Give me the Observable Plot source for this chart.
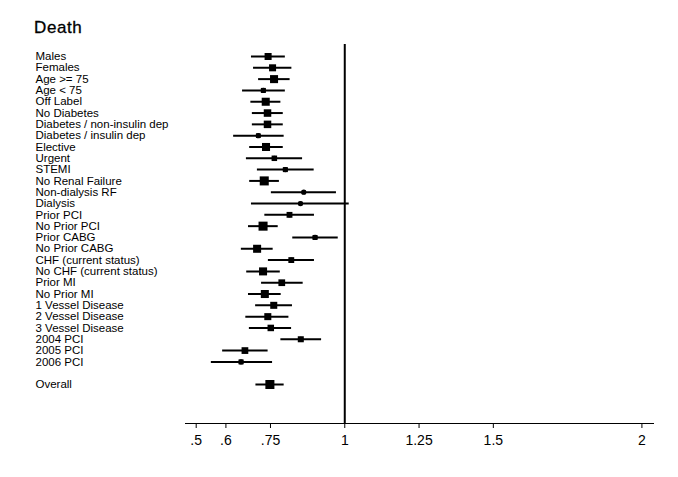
<!DOCTYPE html>
<html>
<head>
<meta charset="utf-8">
<script src="https://cdn.jsdelivr.net/npm/d3@7"></script>
<script src="https://cdn.jsdelivr.net/npm/@observablehq/plot@0.6"></script>
<style>
  html, body { margin: 0; padding: 0; background: #fff; }
  #wrap { position: relative; width: 678px; height: 477px; }
  #title { position: absolute; left: 34px; top: 19px; line-height: 17px; font-family: "Liberation Sans", Arial, sans-serif; font-size: 17px; font-weight: normal; letter-spacing: 0.6px; color: #000; -webkit-text-stroke: 0.3px #000; }
</style>
</head>
<body>
<div id="wrap"><div id="title">Death</div></div>
<script>
const labels = [
  "Males", "Females", "Age >= 75", "Age < 75", "Off Label", "No Diabetes",
  "Diabetes / non-insulin dep", "Diabetes / insulin dep", "Elective", "Urgent",
  "STEMI", "No Renal Failure", "Non-dialysis RF", "Dialysis", "Prior PCI",
  "No Prior PCI", "Prior CABG", "No Prior CABG", "CHF (current status)",
  "No CHF (current status)", "Prior MI", "No Prior MI", "1 Vessel Disease",
  "2 Vessel Disease", "3 Vessel Disease", "2004 PCI", "2005 PCI", "2006 PCI",
  "Overall"
];
const est = [0.742, 0.757, 0.762, 0.726, 0.734, 0.740, 0.740, 0.709, 0.735, 0.763,
  0.800, 0.729, 0.862, 0.851, 0.814, 0.725, 0.900, 0.705, 0.820, 0.725,
  0.788, 0.731, 0.761, 0.741, 0.751, 0.852, 0.664, 0.651, 0.748];
const lo = [0.686, 0.693, 0.710, 0.656, 0.684, 0.689, 0.689, 0.626, 0.680, 0.669,
  0.706, 0.680, 0.753, 0.686, 0.731, 0.676, 0.825, 0.652, 0.743, 0.670,
  0.720, 0.676, 0.700, 0.667, 0.679, 0.785, 0.589, 0.551, 0.701];
const hi = [0.800, 0.822, 0.816, 0.800, 0.785, 0.793, 0.793, 0.796, 0.793, 0.858,
  0.897, 0.780, 0.972, 1.015, 0.898, 0.776, 0.978, 0.759, 0.898, 0.783,
  0.860, 0.786, 0.824, 0.812, 0.821, 0.922, 0.742, 0.757, 0.796];
const weights = [49, 49, 64, 25, 64, 56, 56, 22, 64, 30,
  25, 81, 16, 16, 34, 81, 25, 64, 34, 64,
  45, 64, 49, 49, 42, 36, 45, 25, 81];
const xTicks = [0.5, 0.6, 0.75, 1, 1.25, 1.5, 2];
const xTickLabels = [".5", ".6", ".75", "1", "1.25", "1.5", "2"];

const rows = labels.map((label, i) => ({
  label, est: est[i], lo: lo[i], hi: hi[i], w: weights[i],
  row: i + (label === "Overall" ? 1 : 0)
}));

const font = "'Liberation Sans', Arial, sans-serif";
const chart = Plot.plot({
  width: 678,
  height: 477,
  marginLeft: 185,
  marginRight: 25,
  marginTop: 44,
  marginBottom: 54,
  style: { fontFamily: font, fontSize: "14px", color: "#000", background: "#fff", overflow: "visible" },
  x: {
    domain: [0.464, 2.039],
    ticks: xTicks,
    tickFormat: (d) => xTickLabels[xTicks.indexOf(d)],
    tickSize: 5,
    tickPadding: 7,
    line: true,
    label: null
  },
  y: { type: "linear", domain: [0, 29], range: [56, 384], axis: null },
  r: { type: "sqrt", domain: [0, 81], range: [0, 5.1] },
  marks: [
    Plot.ruleX([1], { stroke: "#000", strokeWidth: 2 }),
    Plot.ruleY(rows, { y: "row", x1: "lo", x2: "hi", stroke: "#000", strokeWidth: 2 }),
    Plot.dot(rows, { x: "est", y: "row", r: "w", symbol: "square", fill: "#000", stroke: "none" }),
    Plot.dot(rows, { x: "est", y: "row", r: 2.6, fill: "#000", stroke: "none" }),
    Plot.text(rows, {
      y: "row", text: "label", frameAnchor: "left", textAnchor: "start",
      dx: -150, fontSize: 11.5, fill: "#000"
    })
  ]
});
document.getElementById("wrap").prepend(chart);
</script>
</body>
</html>
